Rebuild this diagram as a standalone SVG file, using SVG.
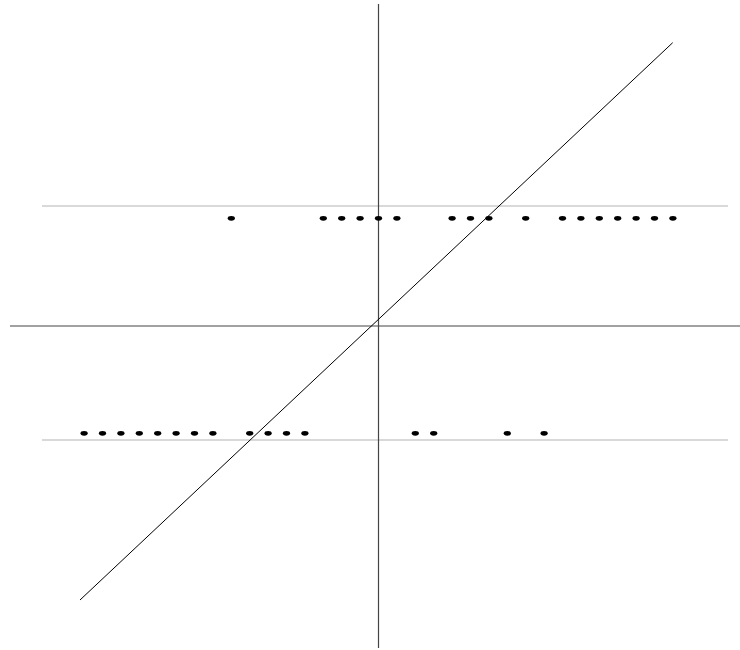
<svg xmlns="http://www.w3.org/2000/svg" width="740" height="650" viewBox="0 0 740 650">
<style>
.axis{stroke:#444;stroke-width:1.2;fill:none}
.guide{stroke:#b4b4b4;stroke-width:1.2;fill:none}
.diag{stroke:#000;stroke-width:1;fill:none}
.dot{fill:#000}
</style>
<defs><ellipse id="d" cx="0" cy="0" rx="3.6" ry="2.4"/></defs>
<rect width="740" height="650" fill="#fff"/>
<g id="connectors">
<line class="guide" x1="42" y1="206" x2="728" y2="206"/>
<line class="guide" x1="42" y1="440" x2="728" y2="440"/>
<line class="axis" x1="10" y1="326" x2="740" y2="326"/>
<line class="axis" x1="378.5" y1="4" x2="378.5" y2="648"/>
<line class="diag" x1="80" y1="600" x2="672.7" y2="42.7"/>
</g>
<g id="top-dots" class="dot">
<use href="#d" x="231.3" y="218.3"/>
<use href="#d" x="323.3" y="218.3"/>
<use href="#d" x="341.7" y="218.3"/>
<use href="#d" x="360.1" y="218.3"/>
<use href="#d" x="378.5" y="218.3"/>
<use href="#d" x="396.9" y="218.3"/>
<use href="#d" x="452.1" y="218.3"/>
<use href="#d" x="470.5" y="218.3"/>
<use href="#d" x="488.9" y="218.3"/>
<use href="#d" x="525.7" y="218.3"/>
<use href="#d" x="562.5" y="218.3"/>
<use href="#d" x="580.9" y="218.3"/>
<use href="#d" x="599.3" y="218.3"/>
<use href="#d" x="617.7" y="218.3"/>
<use href="#d" x="636.1" y="218.3"/>
<use href="#d" x="654.5" y="218.3"/>
<use href="#d" x="672.9" y="218.3"/>
</g>
<g id="bottom-dots" class="dot">
<use href="#d" x="84.1" y="433.3"/>
<use href="#d" x="102.5" y="433.3"/>
<use href="#d" x="120.9" y="433.3"/>
<use href="#d" x="139.3" y="433.3"/>
<use href="#d" x="157.7" y="433.3"/>
<use href="#d" x="176.1" y="433.3"/>
<use href="#d" x="194.5" y="433.3"/>
<use href="#d" x="212.9" y="433.3"/>
<use href="#d" x="249.7" y="433.3"/>
<use href="#d" x="268.1" y="433.3"/>
<use href="#d" x="286.5" y="433.3"/>
<use href="#d" x="304.9" y="433.3"/>
<use href="#d" x="415.3" y="433.3"/>
<use href="#d" x="433.7" y="433.3"/>
<use href="#d" x="507.3" y="433.3"/>
<use href="#d" x="544.1" y="433.3"/>
</g>
</svg>
